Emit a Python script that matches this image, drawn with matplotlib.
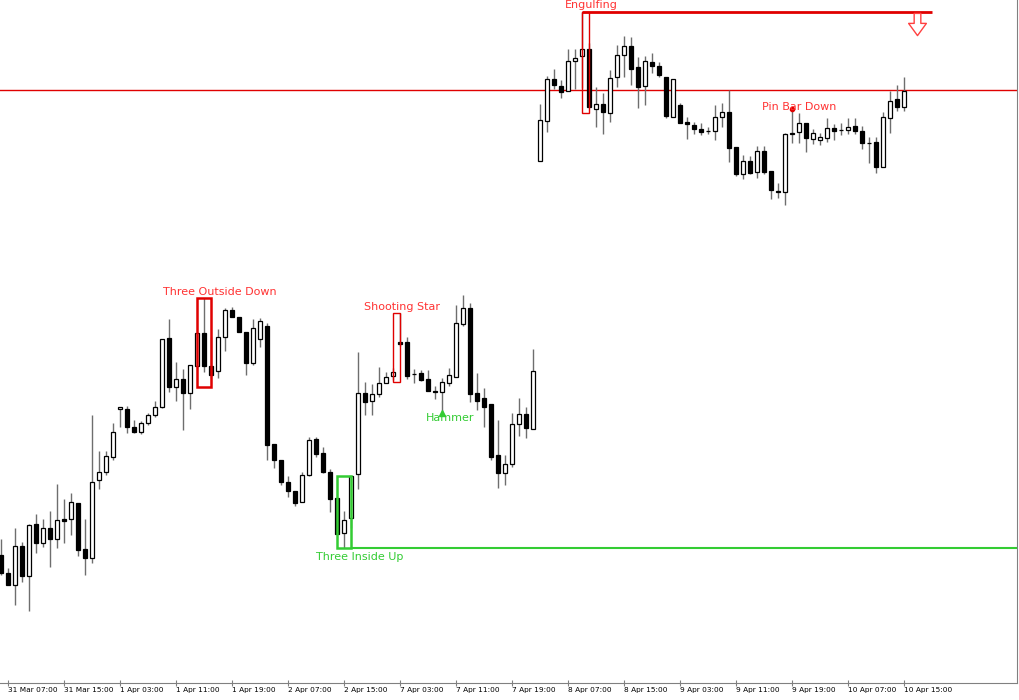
import matplotlib
matplotlib.use("Agg")
import matplotlib.pyplot as plt
from matplotlib.patches import Rectangle
from matplotlib.path import Path
import numpy as np

# H1 bars (no price scale shown, units are screen height)
opens = [145, 127, 115, 154, 124, 176, 157, 172, 161, 181, 181, 197, 151, 142, 220, 228, 243, 291, 291, 273,
         268, 277, 285, 293, 362, 313, 321, 307, 334, 367, 334, 329, 363, 390, 383, 368, 337, 361, 374, 256,
         240, 218, 209, 198, 225, 261, 247, 228, 202, 167, 182, 226, 307, 299, 306, 317, 324, 358, 358, 326,
         327, 321, 309, 308, 317, 323, 376, 392, 307, 302, 296, 245, 227, 236, 276, 286, 271,
         539, 579, 621, 614, 609, 639, 644, 651, 591, 596, 587, 623, 645, 654, 633, 614, 638, 634, 623,
         583, 595, 578, 575, 571, 569, 569, 583, 588, 553, 526, 539, 528, 549, 529, 509, 508, 567, 568, 577,
         561, 560, 562, 572, 570, 570, 574, 569, 557, 558, 533, 582, 601, 593]
highs = [161, 132, 172, 158, 176, 186, 181, 189, 216, 201, 207, 197, 181, 285, 249, 249, 277, 293, 294, 280,
         279, 287, 299, 361, 381, 338, 331, 335, 367, 402, 363, 371, 392, 393, 383, 368, 381, 382, 377, 256,
         240, 224, 209, 228, 263, 263, 253, 231, 202, 189, 224, 348, 318, 316, 333, 328, 332, 387, 363, 331,
         330, 330, 314, 322, 332, 395, 405, 397, 327, 312, 296, 280, 245, 287, 302, 293, 351,
         596, 624, 631, 620, 651, 651, 688, 657, 613, 607, 630, 655, 664, 663, 643, 644, 647, 638, 623,
         621, 597, 583, 578, 577, 573, 595, 597, 610, 553, 545, 544, 554, 554, 529, 517, 567, 591, 587, 577,
         571, 567, 582, 576, 577, 582, 582, 574, 563, 563, 588, 609, 615, 623]
lows = [125, 115, 95, 118, 89, 147, 153, 133, 152, 157, 165, 144, 125, 137, 211, 225, 240, 273, 267, 267,
        266, 275, 283, 292, 308, 299, 270, 291, 334, 328, 322, 322, 349, 383, 368, 325, 335, 353, 240, 232,
        215, 203, 194, 198, 224, 243, 227, 188, 166, 152, 172, 211, 285, 285, 303, 317, 320, 354, 321, 317,
        319, 309, 301, 288, 314, 323, 374, 298, 290, 273, 240, 212, 215, 233, 264, 262, 271,
        539, 568, 611, 602, 609, 611, 612, 593, 573, 566, 578, 613, 623, 615, 592, 595, 627, 623, 582,
        583, 577, 561, 566, 565, 566, 560, 573, 538, 524, 521, 526, 522, 526, 501, 502, 495, 557, 557, 548,
        556, 555, 558, 560, 565, 566, 566, 551, 537, 527, 533, 567, 589, 589]
closes = [127, 115, 154, 124, 175, 157, 172, 161, 180, 179, 198, 150, 142, 218, 228, 244, 268, 293, 273, 268,
          277, 285, 293, 361, 313, 321, 307, 335, 367, 334, 325, 363, 390, 383, 368, 337, 372, 379, 255, 240,
          218, 209, 197, 225, 260, 246, 228, 201, 166, 180, 224, 307, 298, 306, 317, 323, 328, 356, 324, 326,
          320, 309, 308, 318, 325, 377, 392, 306, 299, 293, 243, 227, 236, 276, 286, 272, 329,
          580, 621, 615, 608, 639, 642, 651, 593, 596, 588, 622, 645, 654, 631, 613, 639, 634, 625, 584,
          621, 577, 576, 571, 568, 569, 583, 588, 552, 526, 539, 527, 549, 528, 510, 508, 566, 566, 577, 562,
          567, 563, 572, 569, 570, 573, 569, 557, 557, 533, 583, 599, 593, 609]

tick_bars = [1, 9, 17, 25, 33, 41, 49, 57, 65, 73, 81, 89, 97, 105, 113, 121, 129]
tick_labels = ["31 Mar 07:00", "31 Mar 15:00", "1 Apr 03:00", "1 Apr 11:00", "1 Apr 19:00",
               "2 Apr 07:00", "2 Apr 15:00", "7 Apr 03:00", "7 Apr 11:00", "7 Apr 19:00",
               "8 Apr 07:00", "8 Apr 15:00", "9 Apr 03:00", "9 Apr 11:00", "9 Apr 19:00",
               "10 Apr 07:00", "10 Apr 15:00"]

# detected patterns: name, first bar, last bar
pattern_names = ["Three Outside Down", "Shooting Star", "Engulfing", "Three Inside Up"]
pattern_first = [28, 56, 83, 48]
pattern_last = [30, 57, 84, 50]

hammer_bar = 63
pinbar_bar = 113

RED = "#e00000"
RED_TXT = "#ff3333"
GREEN = "#33cc33"

fig = plt.figure(figsize=(10.2, 7), dpi=100)
ax = fig.add_axes([0, 17 / 700, 1017 / 1020, 683 / 700])

o = np.array(opens)
h = np.array(highs)
l = np.array(lows)
c = np.array(closes)
x = np.arange(len(o))
up = c >= o

ax.vlines(x, l, h, color="#6e6e6e", lw=1, zorder=1)
body_lo = np.minimum(o, c)
body_h = np.abs(c - o)
ax.bar(x[up], body_h[up], bottom=body_lo[up], width=0.62,
       facecolor="white", edgecolor="black", lw=0.9, zorder=2)
ax.bar(x[~up], body_h[~up], bottom=body_lo[~up], width=0.62,
       facecolor="black", edgecolor="black", lw=0.9, zorder=2)

x_right = 145.15
ax.set_xlim(-1 / 7, x_right)
ax.set_ylim(17, 700)

# pattern boxes and labels
styles = [dict(color=RED, lw=1.8, pad=9, tx=2.3, ty=6, va="bottom", tc=RED_TXT),
          dict(color=RED, lw=1.0, pad=2, tx=0.8, ty=6, va="bottom", tc=RED_TXT),
          dict(color=RED, lw=1.0, pad=6, tx=0.8, ty=7, va="bottom", tc=RED_TXT),
          dict(color=GREEN, lw=1.8, pad=0, tx=2.3, ty=-9, va="top", tc=GREEN)]
for name, a, b, st in zip(pattern_names, pattern_first, pattern_last, styles):
    top = h[a:b + 1].max()
    bot = l[a:b + 1].min() - st["pad"]
    ax.add_patch(Rectangle((a, bot), b - a, top - bot, fill=False,
                           edgecolor=st["color"], lw=st["lw"], zorder=3))
    ty = top + st["ty"] if st["ty"] > 0 else bot + st["ty"]
    ax.text((a + b) / 2 + st["tx"], ty, name, color=st["tc"], fontsize=8,
            ha="center", va="center", zorder=4)

# hammer
ax.plot(hammer_bar, l[hammer_bar] - 1, marker="^", ms=4, color=GREEN, zorder=4)
ax.text(hammer_bar + 1.1, l[hammer_bar] - 6, "Hammer", color=GREEN, fontsize=8,
        ha="center", va="center", zorder=4)

# pin bar
ax.plot(pinbar_bar, h[pinbar_bar], marker="o", ms=3, color=RED, zorder=4)
ax.text(pinbar_bar + 1.1, h[pinbar_bar] + 2, "Pin Bar Down", color=RED_TXT, fontsize=8,
        ha="center", va="center", zorder=4)

# levels
ax.axhline(610, color=RED, lw=1, zorder=0.5)
eng = pattern_names.index("Engulfing")
eng_high = h[pattern_first[eng]:pattern_last[eng] + 1].max()
ax.hlines(eng_high, pattern_first[eng], 133, color=RED, lw=2, zorder=3)
tiu = pattern_names.index("Three Inside Up")
tiu_low = l[pattern_first[tiu]:pattern_last[tiu] + 1].min()
ax.hlines(tiu_low, pattern_last[tiu], x_right, color=GREEN, lw=1.5, zorder=3)

# hollow sell arrow
arrow = Path([(-0.3, 1), (0.3, 1), (0.3, 0.1), (0.8, 0.1), (0, -1), (-0.8, 0.1), (-0.3, 0.1), (-0.3, 1)],
             [Path.MOVETO] + [Path.LINETO] * 6 + [Path.CLOSEPOLY])
ax.plot(130.9, 676, marker=arrow, ms=16, markerfacecolor="white",
        markeredgecolor="#ff4040", markeredgewidth=1, zorder=4)

for side in ["left", "top"]:
    ax.spines[side].set_visible(False)
for side in ["right", "bottom"]:
    ax.spines[side].set_color("#808080")
ax.set_yticks([])
ax.set_xticks(tick_bars)
ax.set_xticklabels(tick_labels, ha="left", fontsize=5.3)
ax.tick_params(axis="x", direction="inout", length=4, color="#808080", pad=1)

plt.savefig("out.png", dpi=100)
plt.close()
